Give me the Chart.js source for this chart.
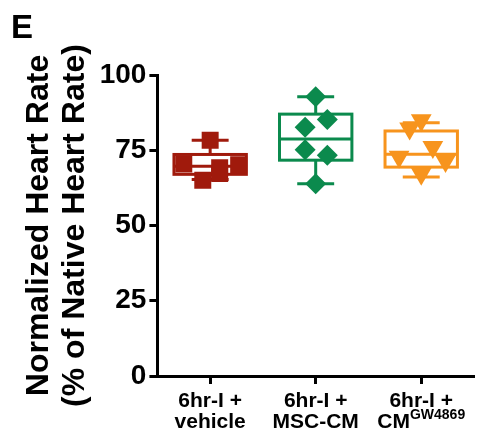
<!DOCTYPE html>
<html>
<head>
<meta charset="utf-8">
<script src="https://cdn.jsdelivr.net/npm/chart.js@4"></script>
<style>
  body { margin: 0; background: #fff; }
  #wrap { width: 487px; height: 439px; position: relative; }
</style>
</head>
<body>
<div id="wrap"><canvas id="hrChart"></canvas></div>
<script>
// groups on the x axis
const groupLines1 = ['6hr-I +', '6hr-I +', '6hr-I +'];
const groupLines2 = ['vehicle', 'MSC-CM', 'CM'];
const groupSup = ['', '', 'GW4869'];
const groupColors = ['#A01A0C', '#0B8A4D', '#F7941D'];
const pointStyles = ['rect', 'rectRot', 'triangle'];

// y ticks
const yTicks = [0, 25, 50, 75, 100];

// box summary per group (min, q1, median, q3, max)
const boxMin = [65.3, 63.9, 66.1];
const boxQ1 = [67.0, 71.7, 69.4];
const boxMedian = [69.7, 78.7, 73.7];
const boxQ3 = [73.6, 87.0, 81.4];
const boxMax = [78.3, 92.8, 84.1];

// individual hearts
const vehicleValues = [78.3, 70.4, 70.2, 69.2, 67.3, 65.0];
const vehicleJitter = [0, -0.25, 0.27, 0.09, 0.09, -0.07];
const mscValues = [92.8, 85.2, 82.6, 75.2, 73.3, 63.9];
const mscJitter = [0, 0.11, -0.1, -0.1, 0.11, 0];
const gwValues = [85.0, 82.2, 76.1, 72.8, 71.4, 67.2];
const gwJitter = [0, -0.11, 0.11, -0.21, 0.23, 0];

const FONT = "'Liberation Sans', Arial, Helvetica, sans-serif";

function toPoints(values, jitter, group) {
    return values.map((v, i) => ({ x: group + 1 + jitter[i], y: v }));
}

const boxPlugin = {
    id: 'boxes',
    beforeDatasetsDraw(chart) {
        const ctx = chart.ctx;
        const xs = chart.scales.x, ys = chart.scales.y;
        ctx.save();
        ctx.lineWidth = 3;
        for (let g = 0; g < 3; g++) {
            const cx = xs.getPixelForValue(g + 1);
            const half = xs.getPixelForValue(g + 1 + 0.343) - cx;
            const cap = xs.getPixelForValue(g + 1 + 0.175) - cx;
            const yMin = ys.getPixelForValue(boxMin[g]);
            const yQ1 = ys.getPixelForValue(boxQ1[g]);
            const yMed = ys.getPixelForValue(boxMedian[g]);
            const yQ3 = ys.getPixelForValue(boxQ3[g]);
            const yMax = ys.getPixelForValue(boxMax[g]);
            ctx.strokeStyle = groupColors[g];
            ctx.strokeRect(cx - half, yQ3, half * 2, yQ1 - yQ3);
            ctx.beginPath();
            ctx.moveTo(cx - half, yMed); ctx.lineTo(cx + half, yMed);
            ctx.moveTo(cx, yQ3); ctx.lineTo(cx, yMax);
            ctx.moveTo(cx, yQ1); ctx.lineTo(cx, yMin);
            ctx.moveTo(cx - cap, yMax); ctx.lineTo(cx + cap, yMax);
            ctx.moveTo(cx - cap, yMin); ctx.lineTo(cx + cap, yMin);
            ctx.stroke();
        }
        ctx.restore();
    }
};

const labelPlugin = {
    id: 'labels',
    afterDraw(chart) {
        const ctx = chart.ctx;
        const xs = chart.scales.x;
        const base = chart.chartArea.bottom;
        ctx.save();
        ctx.fillStyle = '#000';
        ctx.textBaseline = 'alphabetic';
        ctx.font = 'bold 33px ' + FONT;
        ctx.textAlign = 'left';
        ctx.fillText('E', 11, 38);

        const mainFont = 'bold 21px ' + FONT;
        const supFont = 'bold 14px ' + FONT;
        for (let g = 0; g < 3; g++) {
            const cx = xs.getPixelForValue(g + 1);
            ctx.font = mainFont;
            ctx.textAlign = 'center';
            ctx.fillText(groupLines1[g], cx, base + 31);
            const w1 = ctx.measureText(groupLines2[g]).width;
            ctx.font = supFont;
            const w2 = groupSup[g] ? ctx.measureText(groupSup[g]).width : 0;
            const left = cx - (w1 + w2) / 2;
            ctx.textAlign = 'left';
            ctx.font = mainFont;
            ctx.fillText(groupLines2[g], left, base + 52);
            if (groupSup[g]) {
                ctx.font = supFont;
                ctx.fillText(groupSup[g], left + w1, base + 43);
            }
        }
        ctx.restore();
    }
};

const ctx = document.getElementById('hrChart').getContext('2d');
new Chart(ctx, {
    type: 'scatter',
    data: {
        datasets: [
            { data: toPoints(vehicleValues, vehicleJitter, 0) },
            { data: toPoints(mscValues, mscJitter, 1) },
            { data: toPoints(gwValues, gwJitter, 2), rotation: 180 }
        ].map((d, i) => Object.assign({
            pointStyle: pointStyles[i],
            pointRadius: i === 0 ? 12 : (i === 1 ? 10.5 : 12),
            pointHoverRadius: 12,
            backgroundColor: groupColors[i],
            borderColor: groupColors[i],
            borderWidth: 0
        }, d))
    },
    options: {
        responsive: true,
        maintainAspectRatio: false,
        animation: false,
        layout: { padding: { top: 75, right: 13, bottom: 1, left: 21 } },
        plugins: { legend: { display: false }, tooltip: { enabled: false } },
        scales: {
            x: {
                type: 'linear',
                min: 0.5,
                max: 3.5,
                afterBuildTicks: (axis) => { axis.ticks = [1, 2, 3].map(v => ({ value: v })); },
                ticks: {
                    callback: () => ['', ''],
                    font: { size: 20, weight: 'bold', family: FONT }
                },
                grid: { drawOnChartArea: false, drawTicks: true, tickLength: 8, tickWidth: 3, color: '#000' },
                border: { width: 3, color: '#000' }
            },
            y: {
                min: 0,
                max: 100,
                afterBuildTicks: (axis) => { axis.ticks = yTicks.map(v => ({ value: v })); },
                ticks: {
                    color: '#000',
                    padding: 3,
                    font: { size: 28, weight: 'bold', family: FONT }
                },
                grid: { drawOnChartArea: false, drawTicks: true, tickLength: 8, tickWidth: 3, color: '#000' },
                border: { width: 3, color: '#000' },
                title: {
                    display: true,
                    text: ['Normalized Heart Rate', '(% of Native Heart Rate)'],
                    color: '#000',
                    padding: { top: 0, bottom: 4 },
                    font: { size: 32, weight: 'bold', family: FONT, lineHeight: 1.12 }
                }
            }
        }
    },
    plugins: [boxPlugin, labelPlugin]
});
</script>
</body>
</html>
